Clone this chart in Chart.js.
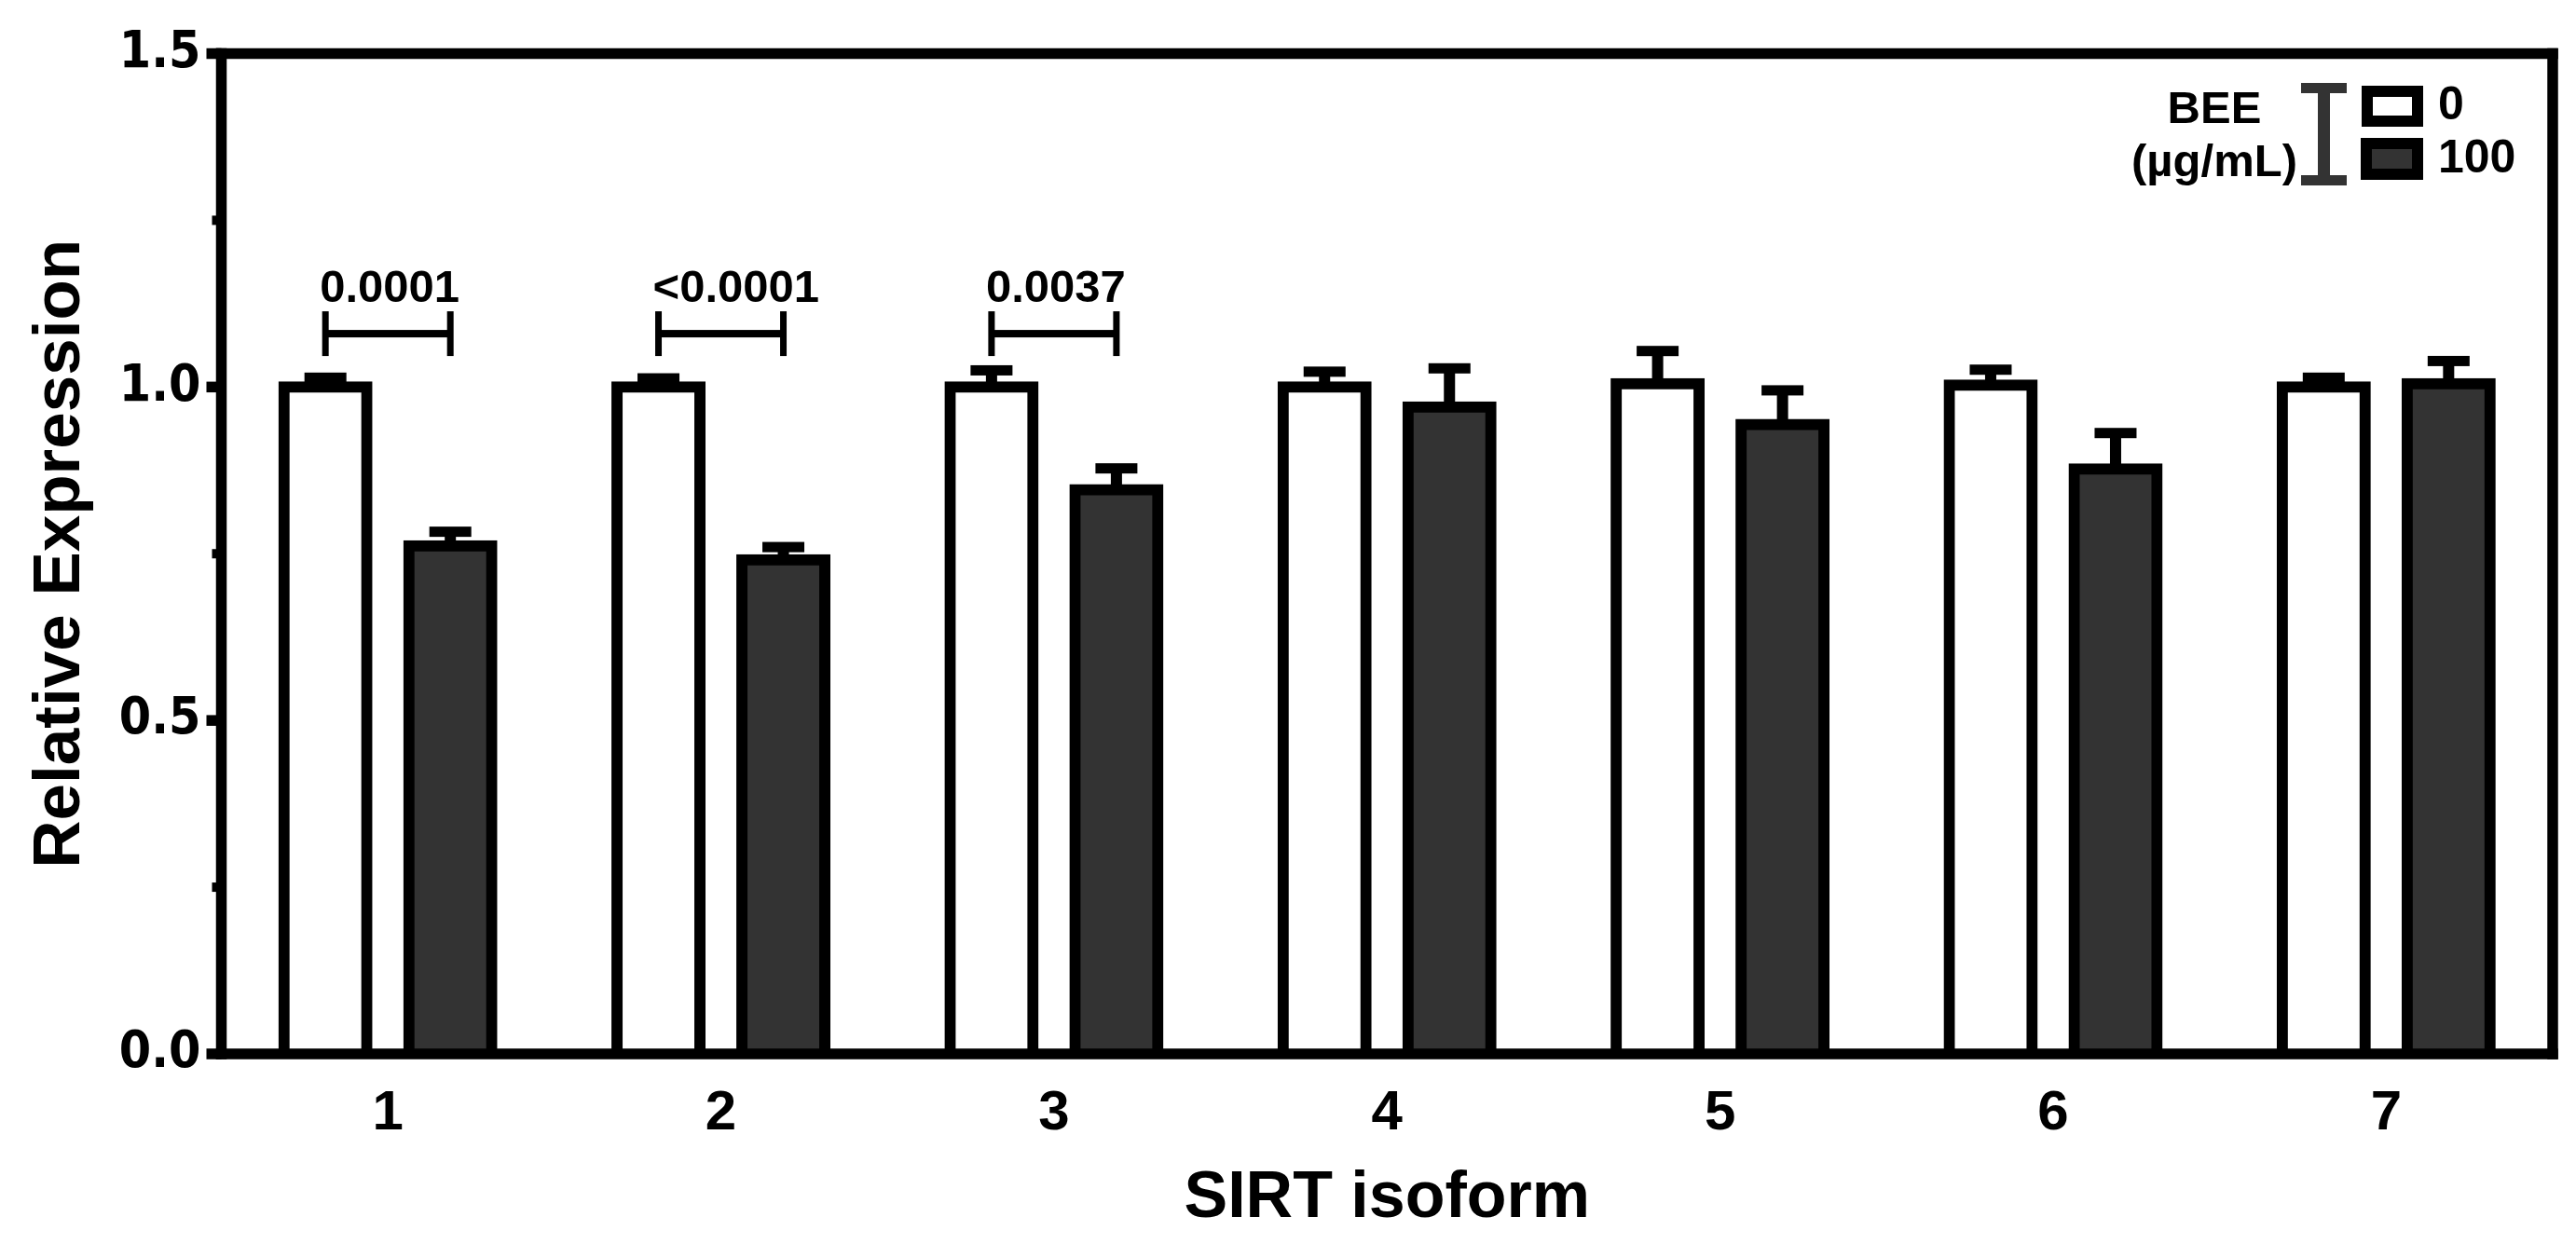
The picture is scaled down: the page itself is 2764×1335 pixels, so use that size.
<!DOCTYPE html>
<html>
<head>
<meta charset="utf-8">
<script src="https://cdn.jsdelivr.net/npm/chart.js@4.4.1/dist/chart.umd.min.js"></script>
<style>
  html, body { margin: 0; padding: 0; background: #fff; }
  #wrap { width: 2764px; height: 1335px; }
</style>
</head>
<body>
<div id="wrap"><canvas id="chart" width="2764" height="1335"></canvas></div>
<script>
// values
const isoforms = ['1', '2', '3', '4', '5', '6', '7'];
const doseLabels = ['0', '100'];
const control = [1.0, 1.0, 1.0, 1.0, 1.005, 1.003, 1.0];
const controlErr = [0.014, 0.013, 0.025, 0.023, 0.049, 0.023, 0.014];
const treated = [0.762, 0.741, 0.846, 0.970, 0.944, 0.877, 1.005];
const treatedErr = [0.021, 0.019, 0.032, 0.058, 0.051, 0.054, 0.034];
const yTicks = [0, 0.5, 1.0, 1.5];
const yMinorTicks = [0.25, 0.75, 1.25];
const pGroups = [0, 1, 2];
const pLabels = ['0.0001', '<0.0001', '0.0037'];
const pBracketAt = 1.08;

const BLACK = '#000000';
const DARK = '#333333';
const ARIAL = "'Liberation Sans', Arial, sans-serif";

// axis frame, tick marks, error bars, p-value brackets, legend
const figurePlugin = {
    id: 'figure',
    afterDatasetsDraw(chart) {
        const ctx = chart.ctx;
        const { left, right, top, bottom } = chart.chartArea;
        const y = chart.scales.y;
        const t = 11.5;

        ctx.save();
        ctx.fillStyle = BLACK;

        // error bars (upper only)
        chart.data.datasets.forEach((ds, i) => {
            const meta = chart.getDatasetMeta(i);
            meta.data.forEach((bar, j) => {
                const yv = y.getPixelForValue(ds.data[j]);
                const ye = y.getPixelForValue(ds.data[j] + ds.errors[j]);
                ctx.fillRect(bar.x - 6, ye, 12, yv - ye);
                ctx.fillRect(bar.x - 22.5, ye - 5.5, 45, 11);
            });
        });

        // frame
        ctx.fillRect(left - t / 2, top - t / 2, t, bottom - top + t);
        ctx.fillRect(right - t / 2, top - t / 2, t, bottom - top + t);
        ctx.fillRect(left - t / 2, top - t / 2, right - left + t, t);
        ctx.fillRect(left - t / 2, bottom - t / 2, right - left + t, t);

        // y tick marks
        yTicks.forEach(v => {
            const py = y.getPixelForValue(v);
            ctx.fillRect(left - 16, py - t / 2, 16, t);
        });
        yMinorTicks.forEach(v => {
            const py = y.getPixelForValue(v);
            ctx.fillRect(left - 10, py - 5, 10, 10);
        });

        // significance brackets
        const m0 = chart.getDatasetMeta(0);
        const m1 = chart.getDatasetMeta(1);
        const by = y.getPixelForValue(pBracketAt);
        ctx.font = 'bold 49px ' + ARIAL;
        ctx.textAlign = 'center';
        ctx.textBaseline = 'alphabetic';
        pGroups.forEach((g, k) => {
            const x1 = m0.data[g].x;
            const x2 = m1.data[g].x;
            ctx.fillRect(x1 - 3.5, by - 24, 7, 48);
            ctx.fillRect(x2 - 3.5, by - 24, 7, 48);
            ctx.fillRect(x1, by - 4, x2 - x1, 8);
            const txt = pLabels[k];
            // a leading "<" hangs to the left of the centred number
            const shift = txt.startsWith('<') ? ctx.measureText('<').width / 2 : 0;
            ctx.fillText(txt, (x1 + x2) / 2 + 2 + shift, by - 34);
        });

        // legend
        ctx.fillText('BEE', 2376, 132);
        ctx.fillText('(\u00b5g/mL)', 2376, 189);
        ctx.fillStyle = DARK;
        ctx.fillRect(2487, 89, 13, 110);
        ctx.fillRect(2469, 89, 49, 11);
        ctx.fillRect(2469, 188, 49, 11);
        ctx.fillStyle = BLACK;
        ctx.fillRect(2534, 92, 66, 44);
        ctx.fillStyle = '#ffffff';
        ctx.fillRect(2546, 104, 42, 20);
        ctx.fillStyle = BLACK;
        ctx.fillRect(2533, 148, 67, 45);
        ctx.fillStyle = DARK;
        ctx.fillRect(2545, 160, 43, 21);
        ctx.fillStyle = BLACK;
        ctx.font = 'bold 50px ' + ARIAL;
        ctx.textAlign = 'left';
        ctx.textBaseline = 'middle';
        ctx.fillText(doseLabels[0], 2616, 114);
        ctx.fillText(doseLabels[1], 2616, 171);

        ctx.restore();
    }
};

const ctx = document.getElementById('chart').getContext('2d');
new Chart(ctx, {
    type: 'bar',
    data: {
        labels: isoforms,
        datasets: [
            {
                label: doseLabels[0],
                data: control,
                errors: controlErr,
                backgroundColor: '#ffffff',
                borderColor: BLACK,
                borderWidth: 12,
                inflateAmount: 6
            },
            {
                label: doseLabels[1],
                data: treated,
                errors: treatedErr,
                backgroundColor: DARK,
                borderColor: BLACK,
                borderWidth: 12,
                inflateAmount: 6
            }
        ]
    },
    options: {
        responsive: false,
        animation: false,
        layout: { padding: { left: 0, right: 25, top: 57.5, bottom: 0 } },
        datasets: { bar: { categoryPercentage: 0.75, barPercentage: 0.664 } },
        plugins: { legend: { display: false }, tooltip: { enabled: false } },
        scales: {
            x: {
                grid: { display: false, drawTicks: false },
                border: { display: false },
                ticks: { color: BLACK, padding: 28, font: { family: ARIAL, weight: 'bold', size: 60 } },
                title: {
                    display: true,
                    text: 'SIRT isoform',
                    color: BLACK,
                    font: { family: ARIAL, weight: 'bold', size: 70 },
                    padding: { top: 0, bottom: 6 }
                },
                afterFit: s => { s.height = 204; }
            },
            y: {
                min: 0,
                max: 1.5,
                afterBuildTicks: s => { s.ticks = yTicks.map(v => ({ value: v })); },
                grid: { display: false, drawTicks: false },
                border: { display: false },
                ticks: {
                    color: BLACK,
                    padding: 22,
                    font: { family: "'DejaVu Sans Condensed', 'DejaVu Sans'", weight: 'bold', size: 55 },
                    callback: v => Number(v).toFixed(1)
                },
                title: {
                    display: true,
                    text: 'Relative Expression',
                    color: BLACK,
                    font: { family: ARIAL, weight: 'bold', size: 71 },
                    padding: { top: 23, bottom: 0 }
                },
                afterFit: s => { s.width = 237.5; }
            }
        }
    },
    plugins: [figurePlugin]
});
</script>
</body>
</html>
